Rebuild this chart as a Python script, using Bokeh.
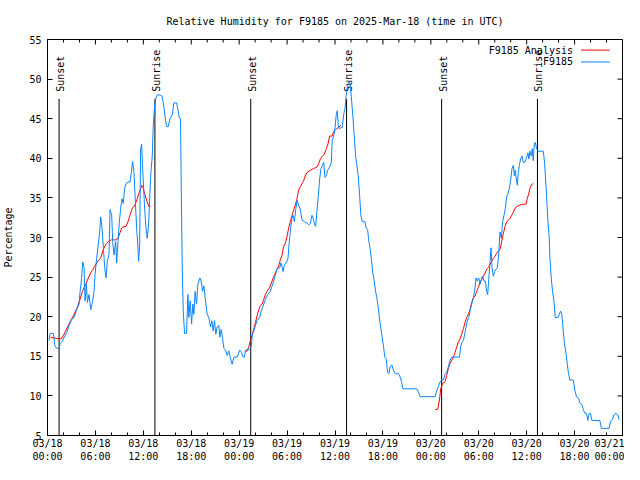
from math import pi
from bokeh.plotting import figure
from bokeh.models import FixedTicker, Range1d
from bokeh.core.properties import value
from bokeh.embed import file_html
from bokeh.resources import INLINE

# ---------------- data ----------------
title_text = "Relative Humidity for F9185 on 2025-Mar-18 (time in UTC)"
y_label = "Percentage"
series_names = ["F9185 Analysis", "F9185"]

x_tick_hours = [0, 6, 12, 18, 24, 30, 36, 42, 48, 54, 60, 66, 72]
x_tick_labels = ["03/18\n00:00", "03/18\n06:00", "03/18\n12:00", "03/18\n18:00",
                 "03/19\n00:00", "03/19\n06:00", "03/19\n12:00", "03/19\n18:00",
                 "03/20\n00:00", "03/20\n06:00", "03/20\n12:00", "03/20\n18:00",
                 "03/21\n00:00"]
x_minor_hours = [h for h in range(0, 73, 2) if h % 6 != 0]
y_ticks = [5, 10, 15, 20, 25, 30, 35, 40, 45, 50, 55]

sun_hours = [1.45, 13.45, 25.45, 37.45, 49.35, 61.35]
sun_names = ["Sunset", "Sunrise", "Sunset", "Sunrise", "Sunset", "Sunrise"]

# observations (hours since 03/18 00:00 UTC, RH %)
obs_hours = [
    0.2, 0.33, 0.74, 0.9, 1.16, 1.45, 1.58, 1.87, 2.08, 2.41, 2.7, 3.0, 3.33, 3.66, 3.95,
    4.08, 4.24, 4.41, 4.58, 4.7, 4.87, 5.0, 5.2, 5.41, 5.62, 5.83, 5.95, 6.16, 6.33, 6.5,
    6.66, 6.83, 7.0, 7.16, 7.33, 7.49, 7.7, 7.83, 8.04, 8.16, 8.33, 8.54, 8.66, 8.83, 9.0,
    9.16, 9.33, 9.49, 9.66, 9.83, 10.08, 10.33, 10.5, 10.66, 10.83, 11.0, 11.16, 11.33,
    11.41, 11.54, 11.66, 11.79, 11.91, 12.04, 12.16, 12.33, 12.49, 12.66, 12.79, 12.95,
    13.12, 13.24, 13.41, 13.58, 13.74, 14.08, 14.37, 14.58, 14.79, 14.91, 15.12, 15.33,
    15.62, 15.83, 16.16, 16.33, 16.5, 16.66, 16.74, 16.87, 17.0, 17.16, 17.41, 17.58, 17.7,
    17.87, 18.04, 18.2, 18.33, 18.49, 18.66, 18.83, 19.08, 19.24, 19.41, 19.58, 19.74,
    19.99, 20.2, 20.41, 20.58, 20.74, 20.91, 21.08, 21.24, 21.45, 21.58, 21.74, 21.91,
    22.08, 22.28, 22.5, 22.7, 22.91, 23.12, 23.33, 23.74, 24.08, 24.3, 24.5, 24.66, 24.79,
    25.2, 25.5, 25.66, 25.83, 26.04, 26.24, 26.58, 26.74, 26.95, 27.29, 27.58, 27.91,
    28.12, 28.33, 28.54, 28.74, 29.08, 29.24, 29.5, 29.66, 29.91, 30.12, 30.24, 30.41,
    30.58, 30.74, 30.91, 31.08, 31.24, 31.45, 31.66, 31.87, 32.16, 32.5, 32.74, 32.91,
    33.12, 33.33, 33.45, 33.58, 33.74, 33.95, 34.08, 34.24, 34.41, 34.58, 34.74, 34.91,
    35.08, 35.33, 35.54, 35.66, 35.83, 35.99, 36.16, 36.29, 36.41, 36.58, 36.74, 36.91,
    37.08, 37.24, 37.41, 37.58, 37.74, 37.91, 38.04, 38.24, 38.41, 38.58, 38.74, 38.91,
    39.08, 39.24, 39.41, 39.74, 39.91, 40.08, 40.24, 40.41, 40.58, 40.74, 40.91, 41.08,
    41.24, 41.41, 41.58, 41.74, 41.91, 42.08, 42.24, 42.41, 42.58, 42.74, 42.91, 43.12,
    43.33, 43.54, 43.95, 44.16, 44.33, 44.49, 46.24, 46.45, 46.66, 48.54, 48.74, 48.95,
    49.16, 49.37, 49.58, 49.79, 49.99, 50.2, 50.41, 50.62, 51.58, 51.74, 51.91, 52.08,
    52.24, 52.41, 52.58, 52.74, 52.91, 53.12, 53.33, 53.54, 53.66, 53.83, 53.99, 54.16,
    54.37, 54.49, 54.66, 54.83, 54.99, 55.12, 55.24, 55.41, 55.54, 55.66, 55.83, 55.99,
    56.16, 56.33, 56.49, 56.66, 56.83, 56.99, 57.16, 57.33, 57.49, 57.66, 57.83, 57.99,
    58.16, 58.33, 58.45, 58.58, 58.7, 58.83, 58.95, 59.08, 59.24, 59.41, 59.58, 59.79,
    59.99, 60.16, 60.29, 60.41, 60.58, 60.7, 60.83, 60.95, 61.08, 61.24, 61.45, 62.08,
    62.24, 62.33, 62.49, 62.66, 62.83, 62.91, 63.08, 63.24, 63.41, 63.58, 63.91, 64.08,
    64.24, 64.41, 64.58, 64.74, 64.91, 65.08, 65.24, 65.41, 65.83, 66.04, 66.24, 66.49,
    66.66, 66.91, 67.08, 67.29, 67.49, 67.66, 67.83, 67.99, 68.16, 68.54, 69.16, 69.37,
    69.79, 70.33, 70.49, 70.74, 70.91, 71.16, 71.41, 71.58,
]
obs_rh = [
    17.0, 17.9, 17.9, 16.4, 16.0, 16.0, 16.6, 16.9, 17.4, 18.0, 18.9, 19.6, 19.9, 20.9, 21.6,
    23.2, 24.5, 26.9, 26.2, 22.0, 24.1, 21.8, 22.8, 20.9, 21.8, 23.2, 25.3, 27.4, 28.9, 30.3,
    32.6, 31.2, 28.7, 26.2, 24.9, 27.0, 27.8, 33.5, 32.8, 29.5, 27.8, 29.5, 26.8, 29.5, 32.0,
    33.7, 34.9, 34.3, 36.2, 36.8, 37.0, 37.0, 38.2, 39.6, 38.2, 34.5, 31.2, 28.7,
    27.0, 29.1, 41.2, 41.8, 38.7, 36.2, 33.7, 31.2, 29.9, 31.6, 34.9, 38.2,
    40.3, 44.1, 46.6, 47.6, 48.0, 48.0, 47.8, 46.4, 44.7, 44.0, 44.0, 45.0,
    45.5, 47.0, 47.0, 46.2, 45.1, 45.0, 37.0, 26.2, 20.7, 17.9, 17.9, 22.8, 19.9,
    22.0, 19.1, 21.6, 20.3, 23.2, 21.6, 24.1, 24.9, 24.5, 23.2, 23.9, 22.4,
    20.3, 19.9, 18.7, 19.5, 18.2, 19.5, 17.8, 18.7, 18.9, 17.4, 18.4, 17.4,
    16.0, 15.8, 15.1, 15.7, 14.7, 14.0, 14.9, 14.9, 15.8, 15.5, 14.9, 14.9, 15.8,
    15.8, 16.2, 17.8, 18.2, 18.9, 19.5, 19.9, 20.7, 21.2, 22.2, 22.8, 23.2,
    23.9, 24.5, 25.3, 26.0, 26.2, 26.8, 25.7, 26.6, 26.8, 27.4, 29.1, 30.7,
    32.4, 32.8, 32.0, 33.5, 34.7, 34.1, 33.5, 32.2, 32.0, 31.8, 31.6, 31.8,
    32.8, 32.2, 31.6, 31.4, 33.3, 35.7, 37.4, 38.7, 39.1, 39.5, 37.6, 37.8,
    38.5, 38.9, 39.5, 42.4, 42.8, 43.7, 45.5, 46.0, 44.1, 43.7, 43.9, 43.9,
    45.5, 46.2, 48.0, 49.3, 49.7, 49.3, 47.8, 45.3, 42.8, 40.3, 39.1, 37.8,
    35.3, 32.8, 32.0, 32.0, 31.2, 31.0, 29.5, 28.5, 27.0, 25.5, 24.5, 23.2,
    22.4, 21.2, 19.7, 18.5, 17.4, 16.2, 14.9, 14.7, 13.0, 12.8, 13.7, 13.9,
    13.2, 12.8, 12.8, 12.4, 11.8, 10.9, 10.9, 10.5, 9.9, 9.9, 10.7, 11.2,
    11.8, 12.0, 12.0, 12.8, 13.0, 13.7, 14.5, 14.9, 14.9, 16.2, 16.8, 17.0,
    17.8, 18.7, 19.5, 19.9, 20.7, 21.6, 22.4, 23.7, 24.9, 24.5, 24.9, 24.1,
    24.9, 25.1, 24.5, 24.5, 23.2, 22.8, 24.5, 27.0, 28.7, 26.2, 25.1, 25.7,
    26.0, 26.2, 27.8, 30.7, 29.9, 32.0, 32.8, 33.7, 35.1, 35.5, 36.2, 37.2,
    38.7, 39.1, 37.8, 38.5, 37.4, 36.6, 38.2, 39.1, 39.9, 40.3, 39.5, 39.5,
    40.1, 40.7, 39.9, 40.9, 40.3, 41.2, 39.7, 41.8, 42.0, 41.2, 40.9, 40.9,
    39.5, 38.0, 35.3, 32.0, 29.9, 27.4, 24.9, 23.2, 22.0, 19.9, 19.9, 20.3,
    20.7, 20.3, 18.2, 16.6, 15.5, 14.1, 12.8, 12.0, 12.0, 10.7, 9.9, 9.7,
    9.1, 8.9, 8.3, 7.8, 7.8, 6.9, 7.8, 7.8, 6.9, 6.9, 6.9, 5.9,
    5.9, 5.9, 6.8, 7.0, 7.6, 7.8, 7.6, 7.0,
]

# analysis, one run per day
ana_day1_hours = [0.41, 1.45, 1.74, 2.08, 2.5, 2.91, 3.33, 3.74, 4.08, 4.37, 4.79, 5.2, 5.5,
                  5.83, 6.16, 6.45, 6.66, 7.0, 7.29, 7.62, 7.99, 8.54, 8.83, 9.04, 9.29,
                  9.58, 9.83, 10.08, 10.33, 10.62, 10.95, 11.24, 11.49, 11.79, 11.99,
                  12.29, 12.49, 12.7, 12.91]
ana_day1_rh = [17.4, 17.2, 17.2, 17.8, 18.7, 19.5, 20.3, 21.2, 22.2, 23.2, 24.1, 25.1, 25.7,
               26.2, 26.8, 27.2, 27.4, 28.5, 29.1, 29.5, 29.7, 29.7, 29.9, 30.5, 31.2,
               31.4, 31.4, 32.0, 32.8, 33.7, 34.1, 34.9, 35.7, 36.6, 36.2,
               35.1, 34.5, 33.9, 33.9]
ana_day2_hours = [24.79, 25.0, 25.2, 25.41, 25.62, 25.83, 26.04, 26.24, 26.45, 26.66, 26.87,
                  27.08, 27.29, 27.49, 27.7, 27.91, 28.12, 28.33, 28.54, 28.74, 28.95,
                  29.16, 29.37, 29.58, 29.79, 29.99, 30.2, 30.41, 30.62, 30.83, 31.04,
                  31.24, 31.45, 31.66, 31.87, 32.08, 32.29, 32.49, 32.91, 33.33, 33.74,
                  33.95, 34.16, 34.37, 34.66, 34.91, 35.12, 35.33, 35.62, 35.91, 36.16,
                  36.45, 36.74]
ana_day2_rh = [15.5, 15.7, 16.2, 17.0, 17.6, 18.5, 19.3, 20.1, 20.9, 21.4, 21.6,
               22.2, 22.8, 23.2, 23.5, 23.9, 24.5, 25.1, 25.5, 26.0, 26.4,
               27.2, 27.8, 28.9, 29.3, 30.1, 31.2, 32.0, 32.8, 33.5, 34.1,
               34.9, 36.0, 36.4, 36.8, 37.2, 37.8, 38.2, 38.5, 38.7, 38.9,
               39.3, 39.9, 40.2, 40.5, 41.2, 41.8, 42.8, 42.8, 43.5, 43.7,
               43.9, 44.2]
ana_day3_hours = [48.54, 48.87, 49.08, 49.24, 49.49, 49.79, 49.99, 50.2, 50.41, 50.62, 50.83,
                  51.04, 51.24, 51.45, 51.66, 51.87, 52.08, 52.29, 52.49, 52.7, 52.91,
                  53.12, 53.33, 53.54, 53.74, 53.95, 54.16, 54.37, 54.58, 54.79, 54.99,
                  55.2, 55.41, 55.62, 55.83, 56.04, 56.24, 56.45, 56.66, 56.87, 57.08,
                  57.29, 57.49, 57.7, 57.91, 58.12, 58.33, 58.54, 58.74, 59.16, 59.58,
                  59.91, 60.08, 60.24, 60.41, 60.62, 60.83]
ana_day3_rh = [8.3, 8.3, 9.5, 10.9, 11.6, 11.8, 12.6, 13.5, 14.1, 14.5, 14.9,
               15.5, 16.2, 16.8, 17.2, 17.8, 18.5, 19.3, 19.9, 20.3, 20.9,
               21.8, 22.4, 22.6, 23.2, 23.7, 24.3, 24.7, 25.1, 25.5, 26.0,
               26.2, 26.6, 27.0, 27.4, 27.6, 28.0, 28.3, 28.5, 29.5, 30.5,
               31.4, 32.0, 32.2, 32.4, 32.8, 33.2, 33.7, 33.9, 34.1, 34.2,
               34.2, 34.9, 35.5, 36.2, 36.7, 36.8]

# ---------------- style ----------------
FONT = "DejaVu Sans Mono"
FS = "10px"
RED = "#ff0000"
BLUE = "#0a84ff"
X0, X1, Y0, Y1 = 0, 72, 5, 55
PX_PER_X = 575 / (X1 - X0)   # approx frame scale, used only for tick-mark lengths
PX_PER_Y = 396 / (Y1 - Y0)

p = figure(width=624, height=464, output_backend="svg", toolbar_location=None,
           x_range=Range1d(X0, X1), y_range=Range1d(Y0, Y1),
           min_border_left=47, min_border_right=2, min_border_top=39, min_border_bottom=0,
           title=title_text)
p.title.align = "center"
p.title.text_font = FONT
p.title.text_font_size = FS
p.title.text_font_style = "normal"
p.title.text_color = "black"
p.title.standoff = 26
p.grid.visible = False
p.outline_line_color = "black"
p.outline_line_width = 1
p.background_fill_color = "white"
p.border_fill_color = "white"

xa = p.xaxis[0]
xa.ticker = FixedTicker(ticks=x_tick_hours, minor_ticks=x_minor_hours)
xa.major_label_overrides = {h: lab for h, lab in zip(x_tick_hours, x_tick_labels)}
ya = p.yaxis[0]
ya.ticker = FixedTicker(ticks=y_ticks, minor_ticks=[])
ya.axis_label = y_label

for ax in (xa, ya):
    ax.axis_line_color = "black"
    ax.major_tick_in = 5
    ax.major_tick_out = 0
    ax.minor_tick_in = 3
    ax.minor_tick_out = 0
    ax.major_tick_line_color = "black"
    ax.minor_tick_line_color = "black"
    ax.major_label_text_font = FONT
    ax.major_label_text_font_size = FS
    ax.major_label_text_color = "black"
    ax.major_label_standoff = 6
xa.major_label_standoff = 2
ya.axis_label_text_font = FONT
ya.axis_label_text_font_size = FS
ya.axis_label_text_font_style = "normal"
ya.axis_label_text_color = "black"
ya.axis_label_standoff = 12

# mirrored inward ticks on the top and right frame edges (as in gnuplot)
maj_dy, min_dy = 5 / PX_PER_Y, 3 / PX_PER_Y
maj_dx = 5 / PX_PER_X
p.segment(x0=x_tick_hours, y0=[Y1] * len(x_tick_hours), x1=x_tick_hours,
          y1=[Y1 - maj_dy] * len(x_tick_hours), line_color="black", line_width=1)
p.segment(x0=x_minor_hours, y0=[Y1] * len(x_minor_hours), x1=x_minor_hours,
          y1=[Y1 - min_dy] * len(x_minor_hours), line_color="black", line_width=1)
p.segment(x0=[X1] * len(y_ticks), y0=y_ticks, x1=[X1 - maj_dx] * len(y_ticks),
          y1=y_ticks, line_color="black", line_width=1)

# sunrise / sunset markers
n = len(sun_hours)
p.segment(x0=sun_hours, y0=[Y0] * n, x1=sun_hours, y1=[47.5] * n,
          line_color="black", line_width=1)
p.text(x=[h + 0.19 for h in sun_hours], y=[48.4] * n, text=sun_names, angle=pi / 2,
       text_align="left", text_baseline="middle", text_font=value(FONT),
       text_font_size=FS, text_color="black")

# series
for hrs, vals in ((ana_day1_hours, ana_day1_rh), (ana_day2_hours, ana_day2_rh),
                  (ana_day3_hours, ana_day3_rh)):
    p.line(hrs, vals, line_color=RED, line_width=1)
p.line(obs_hours, obs_rh, line_color=BLUE, line_width=1)

# gnuplot-style key (text then sample)
key_y = [53.66, 52.16]
p.text(x=[65.8, 65.8], y=key_y, text=series_names, text_align="right",
       text_baseline="middle", text_font=value(FONT), text_font_size=FS, text_color="black")
p.segment(x0=[66.8, 66.8], y0=key_y, x1=[70.4, 70.4], y1=key_y,
          line_color=[RED, BLUE], line_width=1)

open("out.html", "w").write(file_html(p, INLINE))
